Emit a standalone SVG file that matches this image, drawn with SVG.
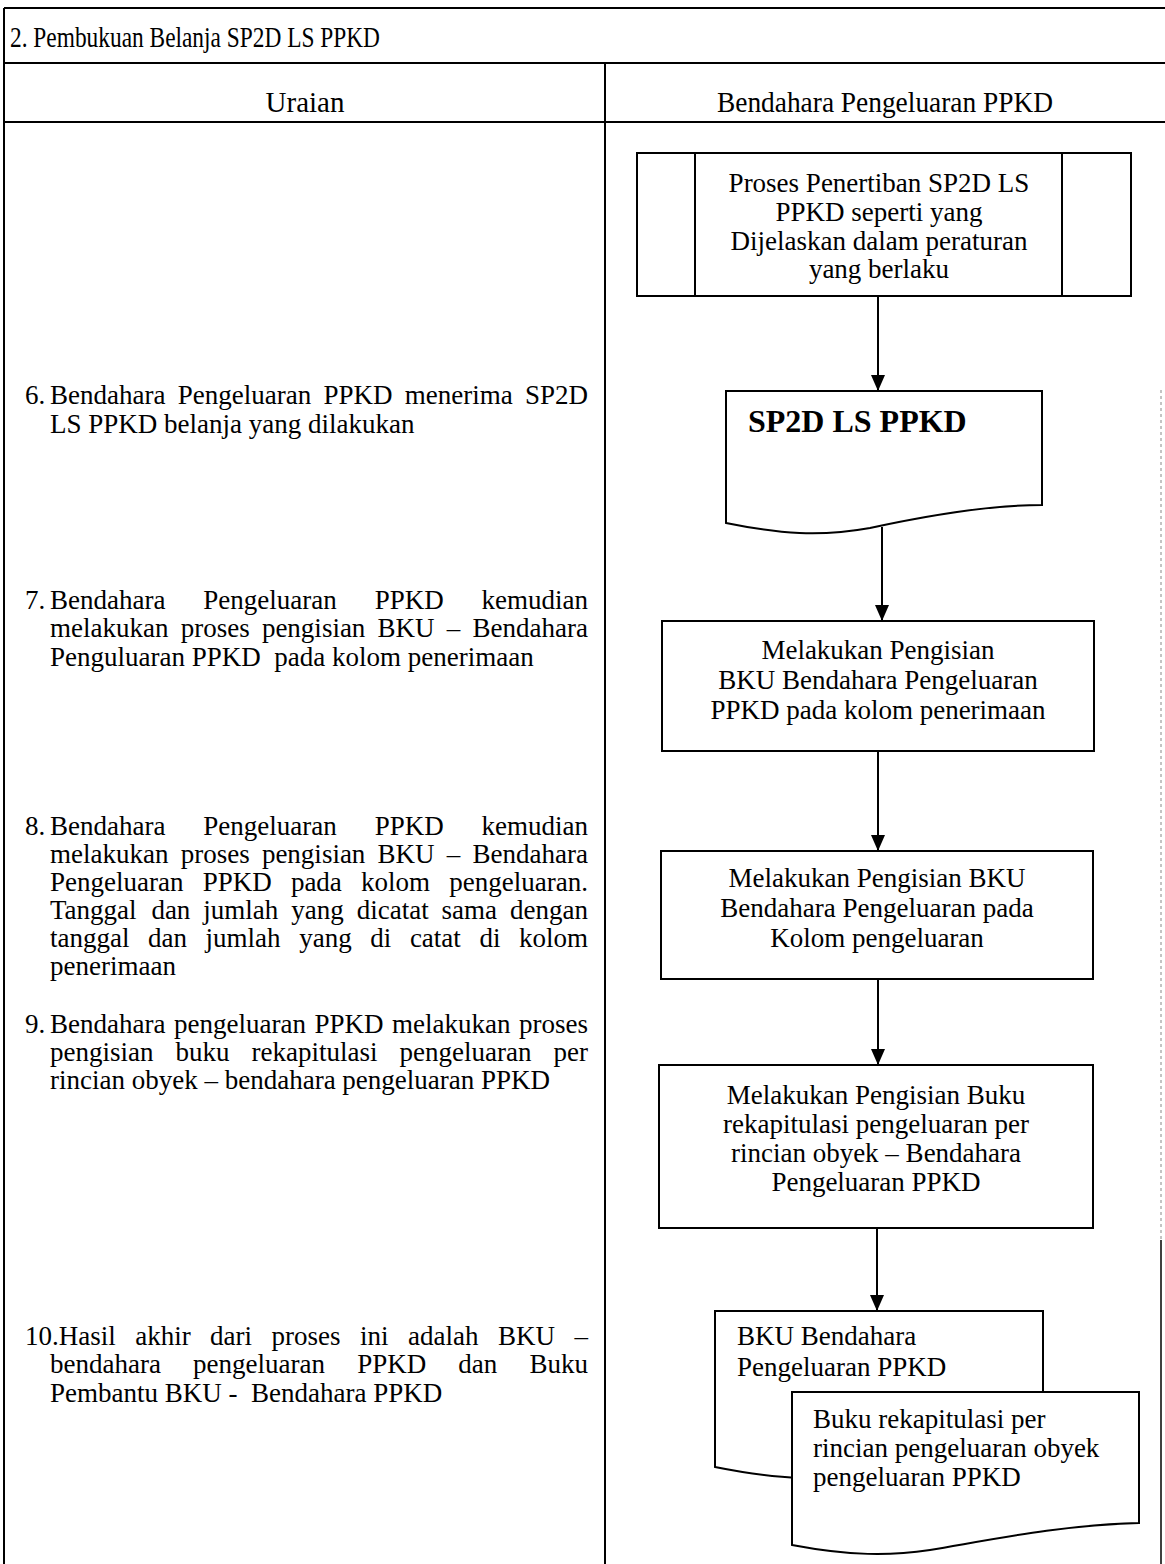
<svg xmlns="http://www.w3.org/2000/svg" width="1165" height="1564" viewBox="0 0 1165 1564">
<style>
.t{font-family:"Liberation Serif","Times New Roman",serif;font-size:27px;fill:#000}
.h{font-family:"Liberation Serif","Times New Roman",serif;font-size:29px;fill:#000}
.b{font-family:"Liberation Serif","Times New Roman",serif;font-size:32px;font-weight:bold;fill:#000}
.c{text-anchor:middle}
.ln{stroke:#000;stroke-width:2;fill:none}
.box{stroke:#000;stroke-width:2;fill:#fff}
.cn{stroke:#000;stroke-width:2;fill:none;marker-end:url(#ah)}
</style>
<defs>
<marker id="ah" markerWidth="16" markerHeight="14" refX="16" refY="7" orient="auto" markerUnits="userSpaceOnUse">
<path d="M0,0 L16,7 L0,14 Z" fill="#000"/>
</marker>
</defs>
<rect x="0" y="0" width="1165" height="1564" fill="#fff"/>
<g id="table">
<line class="ln" x1="4" y1="8" x2="1165" y2="8"/>
<line class="ln" x1="4" y1="63" x2="1165" y2="63"/>
<line class="ln" x1="4" y1="122" x2="1165" y2="122"/>
<line class="ln" x1="4" y1="8" x2="4" y2="1564"/>
<line class="ln" x1="605" y1="63" x2="605" y2="1564"/>
<line x1="1161" y1="390" x2="1161" y2="1240" stroke="#888" stroke-width="1" stroke-dasharray="3,3"/>
<line x1="1161" y1="1240" x2="1161" y2="1564" stroke="#000" stroke-width="1.5"/>
<text class="h" x="10" y="47" textLength="370" lengthAdjust="spacingAndGlyphs">2. Pembukuan Belanja SP2D LS PPKD</text>
<text class="h c" x="305" y="112">Uraian</text>
<text class="h c" x="885" y="112" textLength="336" lengthAdjust="spacingAndGlyphs">Bendahara Pengeluaran PPKD</text>
</g>
<g id="uraian">
<g id="u6">
<text class="t" x="25" y="404">6.</text>
<text class="t" y="404"><tspan x="50">Bendahara</tspan> <tspan x="177.8">Pengeluaran</tspan> <tspan x="323.5">PPKD</tspan> <tspan x="404.8">menerima</tspan> <tspan x="525">SP2D</tspan></text>
<text class="t" x="50" y="433">LS PPKD belanja yang dilakukan</text>
</g>
<g id="u7">
<text class="t" x="25" y="609">7.</text>
<text class="t" y="609"><tspan x="50">Bendahara</tspan> <tspan x="203.3">Pengeluaran</tspan> <tspan x="374.7">PPKD</tspan> <tspan x="481.5">kemudian</tspan></text>
<text class="t" y="637"><tspan x="50">melakukan</tspan> <tspan x="180.7">proses</tspan> <tspan x="261.9">pengisian</tspan> <tspan x="377.6">BKU</tspan> <tspan x="446.8">–</tspan> <tspan x="472.5">Bendahara</tspan></text>
<text class="t" x="50" y="666" xml:space="preserve">Penguluaran PPKD  pada kolom penerimaan</text>
</g>
<g id="u8">
<text class="t" x="25" y="835">8.</text>
<text class="t" y="835"><tspan x="50">Bendahara</tspan> <tspan x="203.3">Pengeluaran</tspan> <tspan x="374.7">PPKD</tspan> <tspan x="481.5">kemudian</tspan></text>
<text class="t" y="863"><tspan x="50">melakukan</tspan> <tspan x="180.7">proses</tspan> <tspan x="261.9">pengisian</tspan> <tspan x="377.6">BKU</tspan> <tspan x="446.8">–</tspan> <tspan x="472.5">Bendahara</tspan></text>
<text class="t" y="891"><tspan x="50">Pengeluaran</tspan> <tspan x="202.7">PPKD</tspan> <tspan x="290.9">pada</tspan> <tspan x="361.1">kolom</tspan> <tspan x="449.3">pengeluaran.</tspan></text>
<text class="t" y="919"><tspan x="50">Tanggal</tspan> <tspan x="151.4">dan</tspan> <tspan x="203.3">jumlah</tspan> <tspan x="291.3">yang</tspan> <tspan x="356.7">dicatat</tspan> <tspan x="441.6">sama</tspan> <tspan x="510">dengan</tspan></text>
<text class="t" y="947"><tspan x="50">tanggal</tspan> <tspan x="148.1">dan</tspan> <tspan x="205.6">jumlah</tspan> <tspan x="299.2">yang</tspan> <tspan x="370.3">di</tspan> <tspan x="409.9">catat</tspan> <tspan x="479.4">di</tspan> <tspan x="519">kolom</tspan></text>
<text class="t" x="50" y="975">penerimaan</text>
</g>
<g id="u9">
<text class="t" x="25" y="1033">9.</text>
<text class="t" y="1033"><tspan x="50">Bendahara</tspan> <tspan x="174">pengeluaran</tspan> <tspan x="314.5">PPKD</tspan> <tspan x="392">melakukan</tspan> <tspan x="519">proses</tspan></text>
<text class="t" y="1061"><tspan x="50">pengisian</tspan> <tspan x="175.5">buku</tspan> <tspan x="251.6">rekapitulasi</tspan> <tspan x="399.6">pengeluaran</tspan> <tspan x="553.5">per</tspan></text>
<text class="t" x="50" y="1089">rincian obyek – bendahara pengeluaran PPKD</text>
</g>
<g id="u10">
<text class="t" y="1345"><tspan x="25">10.Hasil</tspan> <tspan x="135.2">akhir</tspan> <tspan x="210.1">dari</tspan> <tspan x="271.6">proses</tspan> <tspan x="360.1">ini</tspan> <tspan x="408.1">adalah</tspan> <tspan x="498">BKU</tspan> <tspan x="574.5">–</tspan></text>
<text class="t" y="1373"><tspan x="50">bendahara</tspan> <tspan x="193.1">pengeluaran</tspan> <tspan x="357.2">PPKD</tspan> <tspan x="458.3">dan</tspan> <tspan x="529.5">Buku</tspan></text>
<text class="t" x="50" y="1402" xml:space="preserve">Pembantu BKU -  Bendahara PPKD</text>
</g>
</g>
<g id="connectors">
<path class="cn" d="M878,296 V391"/>
<path class="cn" d="M882,527 V621"/>
<path class="cn" d="M878,751 V851"/>
<path class="cn" d="M878,979 V1065"/>
<path class="cn" d="M877,1228 V1311"/>
</g>
<g id="n1">
<rect class="box" x="637" y="153" width="494" height="143"/>
<line class="ln" x1="695" y1="153" x2="695" y2="296"/>
<line class="ln" x1="1062" y1="153" x2="1062" y2="296"/>
<text class="t c" x="879" y="192">Proses Penertiban SP2D LS</text>
<text class="t c" x="879" y="221">PPKD seperti yang</text>
<text class="t c" x="879" y="250">Dijelaskan dalam peraturan</text>
<text class="t c" x="879" y="278">yang berlaku</text>
</g>
<g id="n2">
<path class="box" d="M726,391 H1042 V505 C990,505 930,515 870,528 C820,537 780,534 726,523 Z"/>
<text class="b" x="748" y="432">SP2D LS PPKD</text>
</g>
<g id="n3">
<rect class="box" x="662" y="621" width="432" height="130"/>
<text class="t c" x="878" y="659">Melakukan Pengisian</text>
<text class="t c" x="878" y="689">BKU Bendahara Pengeluaran</text>
<text class="t c" x="878" y="719">PPKD pada kolom penerimaan</text>
</g>
<g id="n4">
<rect class="box" x="661" y="851" width="432" height="128"/>
<text class="t c" x="877" y="887">Melakukan Pengisian BKU</text>
<text class="t c" x="877" y="917">Bendahara Pengeluaran pada</text>
<text class="t c" x="877" y="947">Kolom pengeluaran</text>
</g>
<g id="n5">
<rect class="box" x="659" y="1065" width="434" height="163"/>
<text class="t c" x="876" y="1104">Melakukan Pengisian Buku</text>
<text class="t c" x="876" y="1133">rekapitulasi pengeluaran per</text>
<text class="t c" x="876" y="1162">rincian obyek – Bendahara</text>
<text class="t c" x="876" y="1191">Pengeluaran PPKD</text>
</g>
<g id="n6">
<path class="box" d="M715,1311 H1043 V1460 C960,1460 880,1480 800,1478 C770,1477 740,1472 715,1467 Z"/>
<text class="t" x="737" y="1345">BKU Bendahara</text>
<text class="t" x="737" y="1376">Pengeluaran PPKD</text>
</g>
<g id="n7">
<path class="box" d="M792,1392 H1139 V1523 C1060,1525 990,1540 930,1550 C890,1556 850,1556 792,1545 Z"/>
<text class="t" x="813" y="1428">Buku rekapitulasi per</text>
<text class="t" x="813" y="1457">rincian pengeluaran obyek</text>
<text class="t" x="813" y="1486">pengeluaran PPKD</text>
</g>
</svg>
